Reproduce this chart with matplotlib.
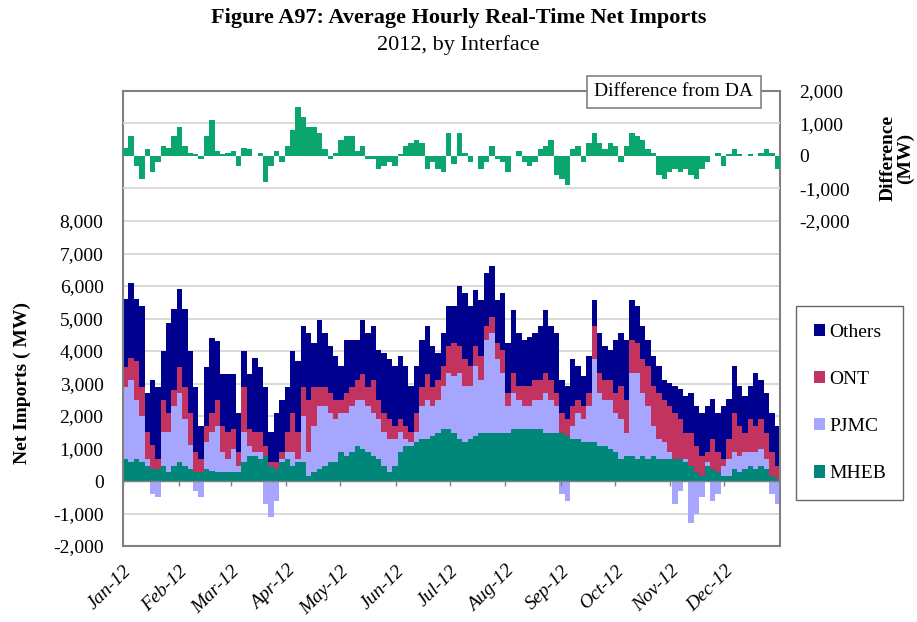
import matplotlib
matplotlib.use("Agg")
import matplotlib.pyplot as plt
from matplotlib.patches import Patch
from matplotlib.ticker import FuncFormatter
import numpy as np

plt.rcParams['font.family'] = ['Liberation Serif', 'DejaVu Serif']

# ------------------------------
# Data: 3-day averages for 2012 (122 bins, MW)
# ------------------------------
mheb = [680, 570, 680, 570, 470, 370, 370, 470, 270, 470,
        570, 470, 370, 270, 270, 370, 320, 270, 270, 270,
        270, 270, 570, 780, 780, 680, 780, 470, 370, 570,
        680, 470, 570, 570, 160, 270, 370, 470, 570, 570,
        880, 780, 880, 1080, 980, 880, 780, 680, 470, 270,
        470, 880, 1080, 1080, 1190, 1290, 1290, 1390, 1490, 1590,
        1590, 1490, 1290, 1190, 1290, 1390, 1490, 1490, 1490, 1490,
        1490, 1490, 1590, 1590, 1590, 1590, 1590, 1590, 1490, 1490,
        1490, 1490, 1390, 1290, 1290, 1190, 1190, 1190, 1080, 1080,
        980, 880, 680, 780, 780, 680, 780, 680, 780, 680,
        680, 680, 680, 680, 570, 470, 270, 160, 470, 370,
        270, 160, 160, 370, 270, 370, 470, 370, 470, 370,
        160, 60]

pjmc = [2220, 2530, 1820, 1430, 210, -400, -500, 1030, 1230, 1830,
        2130, 1430, 730, -300, -500, 830, 1180, 1430, 610, 410,
        710, 200, 930, 300, 100, 200, -700, -1100, -600, 100,
        200, 410, 110, 1430, 720, 1430, 1930, 1830, 1530, 1330,
        1220, 1320, 1420, 1420, 1520, 1420, 1320, 1220, 1030, 1020,
        820, 620, 210, 110, 310, 1010, 1210, 910, 1010, 1330,
        1740, 1740, 2040, 1730, 1630, 2140, 1630, 2860, 3060, 2250,
        1840, 810, 1110, 910, 710, 710, 910, 910, 1210, 1010,
        810, -400, -600, 410, 810, 710, 1110, 2550, 1620, 1420,
        1520, 1220, 1220, 710, 2550, 2650, 1920, 1620, 920, 610,
        510, 200, -700, -300, 100, -1300, -1000, -500, 100, -600,
        -400, 310, 520, 510, 510, 510, 410, 510, 510, 310,
        -400, -700]

ont = [600, 700, 1200, 900, 820, 730, 310, 1000, 600, 500,
       800, 1000, 1000, 630, 410, 500, 600, 800, 820, 820,
       620, 410, 1400, 520, 620, 620, 300, 100, 200, 210,
       620, 1220, 820, 900, 1620, 1200, 600, 600, 600, 600,
       400, 600, 600, 600, 800, 600, 1000, 600, 600, 610,
       410, 400, 410, 310, 600, 600, 800, 600, 600, 610,
       820, 1020, 820, 820, 610, 620, 720, 410, 510, 510,
       710, 400, 630, 420, 620, 620, 620, 620, 630, 620,
       400, 610, 510, 600, 400, 400, 400, 1020, 630, 620,
       620, 600, 1020, 1010, 1020, 920, 1040, 1230, 1220, 1410,
       1310, 1420, 1420, 1220, 820, 1020, 810, 620, 310, 920,
       610, 210, 610, 1220, 920, 610, 1020, 820, 920, 810,
       720, 410]

others = [2100, 2300, 1900, 2500, 1200, 2000, 2200, 1500, 2750, 2500,
          2400, 2400, 1900, 2000, 1020, 1800, 2300, 1800, 1600, 1800,
          1700, 1220, 1100, 1700, 2300, 2000, 1820, 930, 1530, 1620,
          1400, 1900, 2200, 1860, 2050, 1350, 2060, 1650, 1450, 1340,
          1030, 1650, 1450, 1250, 1660, 1650, 1660, 1540, 1840, 1840,
          1830, 1940, 1830, 1420, 1430, 1450, 1460, 1250, 840, 1020,
          1220, 1120, 1840, 2040, 1840, 1730, 1740, 1630, 1540, 1330,
          1740, 1550, 1940, 1630, 1430, 1500, 1430, 1640, 1940, 1640,
          1850, 1020, 1020, 1440, 1030, 930, 1140, 815, 1220, 1030,
          920, 1650, 1630, 1850, 1225, 1120, 1020, 820, 920, 830,
          620, 720, 820, 920, 1120, 1220, 1220, 1320, 1420, 1220,
          1220, 1620, 1220, 1430, 1220, 1125, 1020, 1630, 1220, 1225,
          1220, 1230]

diff_da = [250, 600, -300, -700, 200, -500, -200, 300, 250, 600,
           900, 300, 100, 50, -80, 600, 1100, 150, 50, 100,
           150, -300, 250, 200, 0, 100, -800, -300, 150, -200,
           300, 800, 1500, 1200, 900, 900, 700, 200, -100, 100,
           500, 600, 600, 150, 300, -100, -100, -400, -300, -200,
           -300, 50, 300, 400, 500, 400, -400, -200, -400, -500,
           700, -250, 700, 100, -200, 0, -400, -200, 300, -100,
           -200, -500, 0, 150, -200, -300, -200, 200, 300, 500,
           -600, -700, -900, 200, 300, -200, 400, 700, 400, 200,
           400, 300, -200, 300, 700, 600, 500, 200, 100, -600,
           -700, -500, -400, -500, -400, -600, -700, -400, -200, 0,
           100, -300, 50, 200, 50, 0, 50, 0, 100, 200,
           100, -400]

month_labels = ['Jan-12', 'Feb-12', 'Mar-12', 'Apr-12', 'May-12', 'Jun-12',
                'Jul-12', 'Aug-12', 'Sep-12', 'Oct-12', 'Nov-12', 'Dec-12']
month_days = [31, 29, 31, 30, 31, 30, 31, 31, 30, 31, 30, 31]

# colours
c_others = '#00008F'
c_ont = '#C2345F'
c_pjmc = '#A6A6FF'
c_mheb = '#00877A'
c_diff = '#0BA56E'

bin_days = 3
x = np.arange(len(mheb)) * bin_days
month_starts = np.concatenate([[0], np.cumsum(month_days)[:-1]])

series = [('MHEB', mheb, c_mheb), ('PJMC', pjmc, c_pjmc),
          ('ONT', ont, c_ont), ('Others', others, c_others)]

fig = plt.figure(figsize=(9.17, 6.22), dpi=100)
ax = fig.add_axes([123/917, 1 - 546/622, 657/917, 455/622])

# stacked columns: positives stack up, negatives stack down (Excel style)
pos_base = np.zeros(len(x))
neg_base = np.zeros(len(x))
for name, vals, col in series:
    v = np.array(vals, dtype=float)
    p = np.where(v > 0, v, 0)
    n = np.where(v < 0, v, 0)
    ax.bar(x, p, width=bin_days, bottom=pos_base, align='edge', color=col, linewidth=0)
    ax.bar(x, n, width=bin_days, bottom=neg_base, align='edge', color=col, linewidth=0)
    pos_base += p
    neg_base += n

ax.set_xlim(0, 366)
ax.set_ylim(-2000, 12000)
ax.set_yticks(range(-2000, 8001, 1000))
fmt = FuncFormatter(lambda v, pos: f'{int(v):,}')
ax.yaxis.set_major_formatter(fmt)
ax.tick_params(axis='y', length=0, pad=14, labelsize=14)
for t in range(-2000, 8001, 1000):
    ax.axhline(t, color='#D8D8D0', linewidth=1.3, zorder=0)
ax.set_axisbelow(True)

# month ticks sit on the zero line, labels at the bottom
ax.axhline(0, color='#808080', linewidth=1, zorder=3)
ax.vlines(month_starts, -150, 0, color='#808080', linewidth=1, zorder=3)
ax.set_xticks(month_starts)
ax.set_xticklabels(month_labels, rotation=45, ha='right', rotation_mode='anchor',
                   fontstyle='italic', fontsize=14)
ax.tick_params(axis='x', length=0, pad=12)

for s in ax.spines.values():
    s.set_color('#808080')
    s.set_linewidth(1.5)

ax.set_ylabel('Net Imports ( MW)', fontsize=14, fontweight='bold')
ax.yaxis.set_label_coords(-0.14, 0.358)

# difference panel on the secondary axis
ax2 = ax.twinx()
ax2.bar(x, diff_da, width=bin_days, align='edge', color=c_diff, linewidth=0)
ax2.set_ylim(-12000, 2000)
ax2.set_yticks(range(-2000, 2001, 1000))
ax2.yaxis.set_major_formatter(fmt)
ax2.tick_params(axis='y', length=0, pad=14, labelsize=14)
for t in [-1000, 1000]:
    ax2.axhline(t, color='#D8D8D0', linewidth=1.3, zorder=0)
for s in ax2.spines.values():
    s.set_visible(False)

fig.text(897/917, 1 - 158/622, 'Difference\n(MW)', ha='center', va='center', rotation=90,
         fontsize=14, fontweight='bold', linespacing=1.0)

fig.text(674/917, 1 - 92/622, 'Difference from DA', ha='center', va='center', fontsize=14,
         bbox=dict(boxstyle='square,pad=0.4', facecolor='white', edgecolor='#808080', linewidth=1.2))

# legend
handles = [Patch(facecolor=c_others, label='Others'), Patch(facecolor=c_ont, label='ONT'),
           Patch(facecolor=c_pjmc, label='PJMC'), Patch(facecolor=c_mheb, label='MHEB')]
fig.legend(handles=handles, loc='center left', bbox_to_anchor=(796/917, 1 - 403/622),
           fontsize=14, frameon=True, fancybox=False, edgecolor='#404040',
           handlelength=0.6, handleheight=0.6, handletextpad=0.2, labelspacing=1.55,
           borderpad=0.9, borderaxespad=0)

fig.text(0.5, 1 - 18/622, 'Figure A97: Average Hourly Real-Time Net Imports',
         ha='center', va='center', fontsize=16, fontweight='bold')
fig.text(0.5, 1 - 45/622, '2012, by Interface', ha='center', va='center', fontsize=16)

fig.savefig('out.png', dpi=100)
